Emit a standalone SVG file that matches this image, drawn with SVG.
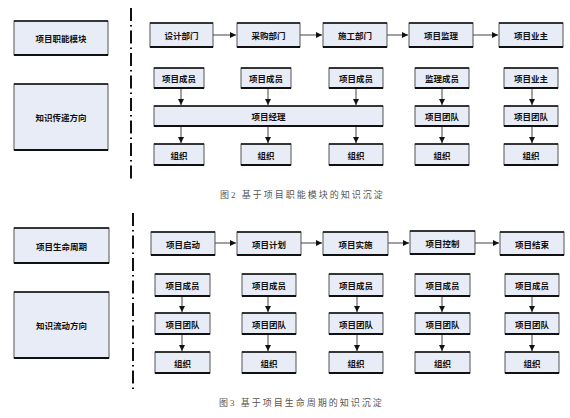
<svg xmlns="http://www.w3.org/2000/svg" width="570" height="418" viewBox="0 0 570 418">
<style>
.bg{fill:#ffffff}
.box{fill:#e8ecf7;stroke:#555;stroke-width:1}
.tb{stroke:#111;stroke-width:1.6}
.bb{stroke:#111;stroke-width:2.2}
.t{font-family:"Noto Sans CJK SC","Noto Sans",sans-serif;font-size:8.5px;font-weight:bold;fill:#111;text-anchor:middle;dominant-baseline:central}
.cap{font-family:"Liberation Serif","Noto Sans CJK SC",serif;font-size:9px;fill:#555;letter-spacing:2px}
.sep{stroke:#111;stroke-width:2;stroke-dasharray:13 4 1.5 4;fill:none}
.c{stroke:#444;stroke-width:1;fill:none;marker-end:url(#ah)}
</style>
<defs>
<marker id="ah" markerUnits="userSpaceOnUse" markerWidth="7" markerHeight="7" refX="6" refY="3" orient="auto">
<path d="M0,0 L6,3 L0,6 z" fill="#111"/>
</marker>
</defs>
<rect class="bg" x="0" y="0" width="570" height="418"/>

<!-- separators -->
<line class="sep" x1="131" y1="8" x2="131" y2="182"/>
<line class="sep" x1="133" y1="213" x2="133" y2="390"/>

<!-- ===== Figure 2 ===== -->
<g id="lbl-module"><rect class="box" x="14" y="21" width="94" height="34"/><line class="tb" x1="14" y1="21" x2="108" y2="21"/><line class="bb" x1="14" y1="55" x2="108" y2="55"/><text class="t" x="61" y="38">项目职能模块</text></g>
<g id="lbl-transfer"><rect class="box" x="14" y="84" width="94" height="66"/><line class="tb" x1="14" y1="84" x2="108" y2="84"/><line class="bb" x1="14" y1="150" x2="108" y2="150"/><text class="t" x="61" y="117">知识传递方向</text></g>

<g id="f2-design"><rect class="box" x="150" y="23" width="63" height="24"/><line class="tb" x1="150" y1="23" x2="213" y2="23"/><line class="bb" x1="150" y1="47" x2="213" y2="47"/><text class="t" x="181.5" y="35">设计部门</text></g>
<g id="f2-purchase"><rect class="box" x="237" y="23" width="63" height="24"/><line class="tb" x1="237" y1="23" x2="300" y2="23"/><line class="bb" x1="237" y1="47" x2="300" y2="47"/><text class="t" x="268.5" y="35">采购部门</text></g>
<g id="f2-build"><rect class="box" x="323" y="23" width="64" height="24"/><line class="tb" x1="323" y1="23" x2="387" y2="23"/><line class="bb" x1="323" y1="47" x2="387" y2="47"/><text class="t" x="355" y="35">施工部门</text></g>
<g id="f2-supervise"><rect class="box" x="409" y="23" width="64" height="24"/><line class="tb" x1="409" y1="23" x2="473" y2="23"/><line class="bb" x1="409" y1="47" x2="473" y2="47"/><text class="t" x="441" y="35">项目监理</text></g>
<g id="f2-owner"><rect class="box" x="499" y="23" width="64" height="24"/><line class="tb" x1="499" y1="23" x2="563" y2="23"/><line class="bb" x1="499" y1="47" x2="563" y2="47"/><text class="t" x="531" y="35">项目业主</text></g>

<g id="f2-m1"><rect class="box" x="154" y="68" width="50" height="20"/><line class="tb" x1="154" y1="68" x2="204" y2="68"/><line class="bb" x1="154" y1="88" x2="204" y2="88"/><text class="t" x="179" y="78">项目成员</text></g>
<g id="f2-m2"><rect class="box" x="241" y="68" width="50" height="20"/><line class="tb" x1="241" y1="68" x2="291" y2="68"/><line class="bb" x1="241" y1="88" x2="291" y2="88"/><text class="t" x="266" y="78">项目成员</text></g>
<g id="f2-m3"><rect class="box" x="329" y="68" width="54" height="20"/><line class="tb" x1="329" y1="68" x2="383" y2="68"/><line class="bb" x1="329" y1="88" x2="383" y2="88"/><text class="t" x="356" y="78">项目成员</text></g>
<g id="f2-m4"><rect class="box" x="415" y="68" width="54" height="20"/><line class="tb" x1="415" y1="68" x2="469" y2="68"/><line class="bb" x1="415" y1="88" x2="469" y2="88"/><text class="t" x="442" y="78">监理成员</text></g>
<g id="f2-m5"><rect class="box" x="504" y="68" width="54" height="20"/><line class="tb" x1="504" y1="68" x2="558" y2="68"/><line class="bb" x1="504" y1="88" x2="558" y2="88"/><text class="t" x="531" y="78">项目业主</text></g>

<g id="f2-pm"><rect class="box" x="154" y="106" width="229" height="20"/><line class="tb" x1="154" y1="106" x2="383" y2="106"/><line class="bb" x1="154" y1="126" x2="383" y2="126"/><text class="t" x="268.5" y="116">项目经理</text></g>
<g id="f2-team1"><rect class="box" x="415" y="106" width="54" height="20"/><line class="tb" x1="415" y1="106" x2="469" y2="106"/><line class="bb" x1="415" y1="126" x2="469" y2="126"/><text class="t" x="442" y="116">项目团队</text></g>
<g id="f2-team2"><rect class="box" x="504" y="106" width="54" height="20"/><line class="tb" x1="504" y1="106" x2="558" y2="106"/><line class="bb" x1="504" y1="126" x2="558" y2="126"/><text class="t" x="531" y="116">项目团队</text></g>

<g id="f2-o1"><rect class="box" x="154" y="144" width="50" height="21"/><line class="tb" x1="154" y1="144" x2="204" y2="144"/><line class="bb" x1="154" y1="165" x2="204" y2="165"/><text class="t" x="179" y="155">组织</text></g>
<g id="f2-o2"><rect class="box" x="241" y="144" width="50" height="21"/><line class="tb" x1="241" y1="144" x2="291" y2="144"/><line class="bb" x1="241" y1="165" x2="291" y2="165"/><text class="t" x="266" y="155">组织</text></g>
<g id="f2-o3"><rect class="box" x="329" y="144" width="54" height="21"/><line class="tb" x1="329" y1="144" x2="383" y2="144"/><line class="bb" x1="329" y1="165" x2="383" y2="165"/><text class="t" x="356" y="155">组织</text></g>
<g id="f2-o4"><rect class="box" x="415" y="144" width="54" height="21"/><line class="tb" x1="415" y1="144" x2="469" y2="144"/><line class="bb" x1="415" y1="165" x2="469" y2="165"/><text class="t" x="442" y="155">组织</text></g>
<g id="f2-o5"><rect class="box" x="504" y="144" width="54" height="21"/><line class="tb" x1="504" y1="144" x2="558" y2="144"/><line class="bb" x1="504" y1="165" x2="558" y2="165"/><text class="t" x="531" y="155">组织</text></g>

<text class="cap" x="220" y="198">图2 基于项目职能模块的知识沉淀</text>

<!-- ===== Figure 3 ===== -->
<g id="lbl-lifecycle"><rect class="box" x="14" y="228" width="95" height="35"/><line class="tb" x1="14" y1="228" x2="109" y2="228"/><line class="bb" x1="14" y1="263" x2="109" y2="263"/><text class="t" x="61.5" y="245.5">项目生命周期</text></g>
<g id="lbl-flow"><rect class="box" x="14" y="292" width="95" height="66"/><line class="tb" x1="14" y1="292" x2="109" y2="292"/><line class="bb" x1="14" y1="358" x2="109" y2="358"/><text class="t" x="61.5" y="325">知识流动方向</text></g>

<g id="f3-start"><rect class="box" x="151" y="232" width="64" height="23"/><line class="tb" x1="151" y1="232" x2="215" y2="232"/><line class="bb" x1="151" y1="255" x2="215" y2="255"/><text class="t" x="183" y="243.5">项目启动</text></g>
<g id="f3-plan"><rect class="box" x="237" y="232" width="64" height="23"/><line class="tb" x1="237" y1="232" x2="301" y2="232"/><line class="bb" x1="237" y1="255" x2="301" y2="255"/><text class="t" x="269" y="243.5">项目计划</text></g>
<g id="f3-exec"><rect class="box" x="323" y="232" width="65" height="23"/><line class="tb" x1="323" y1="232" x2="388" y2="232"/><line class="bb" x1="323" y1="255" x2="388" y2="255"/><text class="t" x="355.5" y="243.5">项目实施</text></g>
<g id="f3-control"><rect class="box" x="410" y="231" width="65" height="23"/><line class="tb" x1="410" y1="231" x2="475" y2="231"/><line class="bb" x1="410" y1="254" x2="475" y2="254"/><text class="t" x="442.5" y="242.5">项目控制</text></g>
<g id="f3-end"><rect class="box" x="500" y="232" width="64" height="23"/><line class="tb" x1="500" y1="232" x2="564" y2="232"/><line class="bb" x1="500" y1="255" x2="564" y2="255"/><text class="t" x="532" y="243.5">项目结束</text></g>

<g id="f3-m1"><rect class="box" x="155" y="274" width="55" height="22"/><line class="tb" x1="155" y1="274" x2="210" y2="274"/><line class="bb" x1="155" y1="296" x2="210" y2="296"/><text class="t" x="182.5" y="285">项目成员</text></g>
<g id="f3-m2"><rect class="box" x="242" y="274" width="54" height="22"/><line class="tb" x1="242" y1="274" x2="296" y2="274"/><line class="bb" x1="242" y1="296" x2="296" y2="296"/><text class="t" x="269" y="285">项目成员</text></g>
<g id="f3-m3"><rect class="box" x="329" y="274" width="54" height="22"/><line class="tb" x1="329" y1="274" x2="383" y2="274"/><line class="bb" x1="329" y1="296" x2="383" y2="296"/><text class="t" x="356" y="285">项目成员</text></g>
<g id="f3-m4"><rect class="box" x="415" y="274" width="55" height="22"/><line class="tb" x1="415" y1="274" x2="470" y2="274"/><line class="bb" x1="415" y1="296" x2="470" y2="296"/><text class="t" x="442.5" y="285">项目成员</text></g>
<g id="f3-m5"><rect class="box" x="505" y="274" width="54" height="22"/><line class="tb" x1="505" y1="274" x2="559" y2="274"/><line class="bb" x1="505" y1="296" x2="559" y2="296"/><text class="t" x="532" y="285">项目成员</text></g>

<g id="f3-t1"><rect class="box" x="155" y="313" width="55" height="21"/><line class="tb" x1="155" y1="313" x2="210" y2="313"/><line class="bb" x1="155" y1="334" x2="210" y2="334"/><text class="t" x="182.5" y="323.5">项目团队</text></g>
<g id="f3-t2"><rect class="box" x="242" y="313" width="54" height="21"/><line class="tb" x1="242" y1="313" x2="296" y2="313"/><line class="bb" x1="242" y1="334" x2="296" y2="334"/><text class="t" x="269" y="323.5">项目团队</text></g>
<g id="f3-t3"><rect class="box" x="329" y="313" width="54" height="21"/><line class="tb" x1="329" y1="313" x2="383" y2="313"/><line class="bb" x1="329" y1="334" x2="383" y2="334"/><text class="t" x="356" y="323.5">项目团队</text></g>
<g id="f3-t4"><rect class="box" x="415" y="313" width="55" height="21"/><line class="tb" x1="415" y1="313" x2="470" y2="313"/><line class="bb" x1="415" y1="334" x2="470" y2="334"/><text class="t" x="442.5" y="323.5">项目团队</text></g>
<g id="f3-t5"><rect class="box" x="505" y="313" width="54" height="21"/><line class="tb" x1="505" y1="313" x2="559" y2="313"/><line class="bb" x1="505" y1="334" x2="559" y2="334"/><text class="t" x="532" y="323.5">项目团队</text></g>

<g id="f3-o1"><rect class="box" x="155" y="352" width="55" height="21"/><line class="tb" x1="155" y1="352" x2="210" y2="352"/><line class="bb" x1="155" y1="373" x2="210" y2="373"/><text class="t" x="182.5" y="362.5">组织</text></g>
<g id="f3-o2"><rect class="box" x="242" y="352" width="54" height="21"/><line class="tb" x1="242" y1="352" x2="296" y2="352"/><line class="bb" x1="242" y1="373" x2="296" y2="373"/><text class="t" x="269" y="362.5">组织</text></g>
<g id="f3-o3"><rect class="box" x="329" y="352" width="54" height="21"/><line class="tb" x1="329" y1="352" x2="383" y2="352"/><line class="bb" x1="329" y1="373" x2="383" y2="373"/><text class="t" x="356" y="362.5">组织</text></g>
<g id="f3-o4"><rect class="box" x="415" y="352" width="55" height="21"/><line class="tb" x1="415" y1="352" x2="470" y2="352"/><line class="bb" x1="415" y1="373" x2="470" y2="373"/><text class="t" x="442.5" y="362.5">组织</text></g>
<g id="f3-o5"><rect class="box" x="505" y="352" width="54" height="21"/><line class="tb" x1="505" y1="352" x2="559" y2="352"/><line class="bb" x1="505" y1="373" x2="559" y2="373"/><text class="t" x="532" y="362.5">组织</text></g>

<text class="cap" x="219" y="406">图3 基于项目生命周期的知识沉淀</text>

<!-- connectors -->
<g id="connectors">
<line class="c" x1="213" y1="35" x2="236" y2="35"/>
<line class="c" x1="300" y1="35" x2="322" y2="35"/>
<line class="c" x1="387" y1="35" x2="408" y2="35"/>
<line class="c" x1="473" y1="35" x2="498" y2="35"/>
<line class="c" x1="181" y1="89" x2="181" y2="105"/>
<line class="c" x1="268" y1="89" x2="268" y2="105"/>
<line class="c" x1="356" y1="89" x2="356" y2="105"/>
<line class="c" x1="442" y1="89" x2="442" y2="105"/>
<line class="c" x1="532" y1="89" x2="532" y2="105"/>
<line class="c" x1="181" y1="127" x2="181" y2="143"/>
<line class="c" x1="268" y1="127" x2="268" y2="143"/>
<line class="c" x1="356" y1="127" x2="356" y2="143"/>
<line class="c" x1="442" y1="127" x2="442" y2="143"/>
<line class="c" x1="532" y1="127" x2="532" y2="143"/>

<line class="c" x1="215" y1="243" x2="236" y2="243"/>
<line class="c" x1="301" y1="243" x2="322" y2="243"/>
<line class="c" x1="388" y1="243" x2="409" y2="243"/>
<line class="c" x1="475" y1="243" x2="499" y2="243"/>
<line class="c" x1="182" y1="297" x2="182" y2="312"/>
<line class="c" x1="268" y1="297" x2="268" y2="312"/>
<line class="c" x1="357" y1="297" x2="357" y2="312"/>
<line class="c" x1="442" y1="297" x2="442" y2="312"/>
<line class="c" x1="532" y1="297" x2="532" y2="312"/>
<line class="c" x1="182" y1="335" x2="182" y2="351"/>
<line class="c" x1="268" y1="335" x2="268" y2="351"/>
<line class="c" x1="357" y1="335" x2="357" y2="351"/>
<line class="c" x1="442" y1="335" x2="442" y2="351"/>
<line class="c" x1="532" y1="335" x2="532" y2="351"/>
</g>
</svg>
